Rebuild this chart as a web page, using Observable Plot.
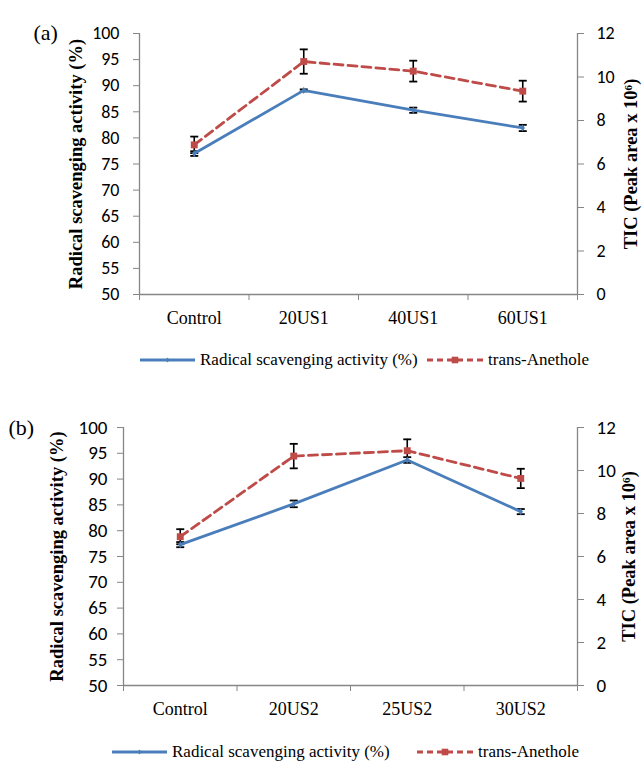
<!DOCTYPE html>
<html>
<head>
<meta charset="utf-8">
<script src="https://cdn.jsdelivr.net/npm/d3@7"></script>
<script src="https://cdn.jsdelivr.net/npm/@observablehq/plot@0.6"></script>
<style>
  html, body { margin: 0; padding: 0; background: #fff; }
  #root { position: relative; width: 643px; height: 762px; overflow: hidden; }
  .panel { position: absolute; left: 0; }
  .legend { position: absolute; left: 0; width: 643px; height: 24px; font-family: 'Liberation Serif', 'Times New Roman', serif; font-size: 17px; color: #000; }
  .legend svg, .legend span { position: absolute; }
</style>
</head>
<body>
<div id="root"></div>
<script>
// ---------- Data ----------
const categoriesA = ["Control", "20US1", "40US1", "60US1"];
const rsaA = [77.0, 89.1, 85.3, 81.9];
const rsaErrA = [0.45, 0.2, 0.5, 0.6];
const anetholeA = [6.88, 10.71, 10.27, 9.35];
const anetholeErrA = [0.38, 0.56, 0.48, 0.48];

const categoriesB = ["Control", "20US2", "25US2", "30US2"];
const rsaB = [77.3, 85.2, 93.7, 83.7];
const rsaErrB = [0.5, 0.65, 0.55, 0.5];
const anetholeB = [6.92, 10.67, 10.92, 9.63];
const anetholeErrB = [0.35, 0.57, 0.53, 0.45];

const leftTicks = [50, 55, 60, 65, 70, 75, 80, 85, 90, 95, 100];
const rightTicks = [0, 2, 4, 6, 8, 10, 12];
const leftTitle = "Radical scavenging activity (%)";
const rightTitle = "TIC (Peak area x 10\u2076)";
const seriesNames = ["Radical scavenging activity (%)", "trans-Anethole"];

// ---------- Style ----------
const blue = "#4a7ebb";
const red = "#be4b48";
const axisGray = "#868686";
const serif = "'Liberation Serif', 'Times New Roman', serif";
const sans = "Carlito, Lato, 'Open Sans', sans-serif";

// right axis (0-12) mapped onto left axis domain (50-100)
const toLeft = v => 50 + v * (50 / 12);
const fromLeft = d => (d - 50) * 12 / 50;

const capSymbol = {
  draw(ctx, size) {
    const r = Math.sqrt(size / Math.PI);
    ctx.moveTo(-r, 0);
    ctx.lineTo(r, 0);
  }
};

function panel(cfg) {
  const rows = cfg.categories.map((c, i) => ({
    cat: c, x: i + 0.5,
    rsa: cfg.rsa[i], rsaErr: cfg.rsaErr[i],
    an: toLeft(cfg.an[i]),
    anLo: toLeft(cfg.an[i] - cfg.anErr[i]),
    anHi: toLeft(cfg.an[i] + cfg.anErr[i])
  }));
  const errs = rows.flatMap(d => [
    {x: d.x, y1: d.rsa - d.rsaErr, y2: d.rsa + d.rsaErr},
    {x: d.x, y1: d.anLo, y2: d.anHi}
  ]);
  const caps = errs.flatMap(e => [{x: e.x, y: e.y1}, {x: e.x, y: e.y2}]);
  const n = cfg.categories.length;

  return Plot.plot({
    width: 643,
    height: cfg.height,
    marginLeft: cfg.left,
    marginRight: 643 - cfg.right,
    marginTop: cfg.top,
    marginBottom: cfg.bottom,
    style: {background: "#fff", color: "#000", overflow: "visible"},
    x: {type: "linear", domain: [0, n]},
    y: {type: "linear", domain: [50, 100]},
    marks: [
      // axis lines
      Plot.ruleX([0], {y1: 50, y2: 100, stroke: axisGray, strokeWidth: 1.3}),
      Plot.ruleX([n], {y1: 50, y2: 100, stroke: axisGray, strokeWidth: 1.3}),
      Plot.ruleY([50], {x1: 0, x2: n, stroke: axisGray, strokeWidth: 1.3}),
      // left axis
      Plot.axisY(leftTicks, {anchor: "left", tickSize: 6, tickPadding: cfg.leftPad, stroke: axisGray,
        fontFamily: sans, fontSize: cfg.tickFont, label: null}),
      // right axis
      Plot.axisY(rightTicks.map(toLeft), {anchor: "right", tickSize: 6, tickPadding: 13, stroke: axisGray,
        tickFormat: d => String(Math.round(fromLeft(d))), fontFamily: sans, fontSize: cfg.tickFont, label: null}),
      // x ticks at category boundaries
      Plot.axisX(d3.range(0, n + 1), {anchor: "bottom", tickSize: 6, tickFormat: () => "", stroke: axisGray, label: null}),
      // category labels
      Plot.axisX(rows.map(d => d.x), {anchor: "bottom", tickSize: 0, tickPadding: 17,
        tickFormat: d => cfg.categories[Math.floor(d)], fontFamily: serif, fontSize: 18, label: null}),
      // axis titles
      Plot.text([leftTitle], {frameAnchor: "left", dx: cfg.leftTitleDx, rotate: -90, textAnchor: "middle",
        fontFamily: serif, fontWeight: "bold", fontSize: 18.5, fill: "#000"}),
      Plot.text([rightTitle], {frameAnchor: "right", dx: cfg.rightTitleDx, rotate: -90, textAnchor: "middle",
        fontFamily: serif, fontWeight: "bold", fontSize: 18.5, fill: "#000"}),
      // panel tag
      Plot.text([cfg.tag], {frameAnchor: "top-left", dx: cfg.tagDx, dy: cfg.tagDy, textAnchor: "start",
        fontFamily: serif, fontSize: 22, fill: "#000"}),
      // error bars
      Plot.ruleX(errs, {x: "x", y1: "y1", y2: "y2", stroke: "#000", strokeWidth: 1.6}),
      Plot.dot(caps, {x: "x", y: "y", symbol: capSymbol, r: 4, stroke: "#000", strokeWidth: 1.8, fill: "none"}),
      // series
      Plot.line(rows, {x: "x", y: "rsa", stroke: blue, strokeWidth: 2.8}),
      Plot.line(rows, {x: "x", y: "an", stroke: red, strokeWidth: 2.8, strokeDasharray: "9,5"}),
      Plot.dot(rows, {x: "x", y: "rsa", symbol: "diamond", r: 2.2, fill: blue, stroke: "none"}),
      Plot.dot(rows, {x: "x", y: "an", symbol: "square", r: 3.9, fill: red, stroke: "none"})
    ]
  });
}

function legend(top, items) {
  const div = document.createElement("div");
  div.className = "legend";
  div.style.top = top + "px";
  items.forEach(it => {
    const ns = "http://www.w3.org/2000/svg";
    const svg = document.createElementNS(ns, "svg");
    svg.setAttribute("width", it.w);
    svg.setAttribute("height", 12);
    svg.style.left = it.x + "px";
    svg.style.top = "6px";
    const line = document.createElementNS(ns, "line");
    line.setAttribute("x1", 0); line.setAttribute("x2", it.w);
    line.setAttribute("y1", 6); line.setAttribute("y2", 6);
    line.setAttribute("stroke", it.color);
    line.setAttribute("stroke-width", 2.8);
    if (it.dash) line.setAttribute("stroke-dasharray", it.dash);
    svg.appendChild(line);
    const m = document.createElementNS(ns, "path");
    const cx = it.w / 2;
    if (it.marker === "square") m.setAttribute("d", `M${cx-3.3},2.7h6.6v6.6h-6.6z`);
    else m.setAttribute("d", `M${cx},3.5L${cx+2},6L${cx},8.5L${cx-2},6z`);
    m.setAttribute("fill", it.color);
    svg.appendChild(m);
    div.appendChild(svg);
    const s = document.createElement("span");
    s.textContent = it.label;
    s.style.left = it.tx + "px";
    s.style.top = "1px";
    s.style.lineHeight = "22px";
    div.appendChild(s);
  });
  return div;
}

const root = document.getElementById("root");

const a = panel({
  categories: categoriesA, rsa: rsaA, rsaErr: rsaErrA, an: anetholeA, anErr: anetholeErrA,
  height: 340, left: 139, right: 577, top: 33, bottom: 46, tickFont: 18, leftPad: 14,
  leftTitleDx: -63, rightTitleDx: 54, tag: "(a)", tagDx: -106, tagDy: -9
});
a.classList.add("panel"); a.style.top = "0px";
root.appendChild(a);
root.appendChild(legend(348, [
  {x: 140, w: 55, color: blue, marker: "diamond", label: seriesNames[0], tx: 200},
  {x: 427, w: 56, color: red, dash: "6,4", marker: "square", label: seriesNames[1], tx: 488}
]));

const b = panel({
  categories: categoriesB, rsa: rsaB, rsaErr: rsaErrB, an: anetholeB, anErr: anetholeErrB,
  height: 345, left: 123, right: 577, top: 47, bottom: 40, tickFont: 19, leftPad: 10,
  leftTitleDx: -66, rightTitleDx: 52, tag: "(b)", tagDx: -115, tagDy: -8
});
b.classList.add("panel"); b.style.top = "380px";
root.appendChild(b);
root.appendChild(legend(740, [
  {x: 112, w: 55, color: blue, marker: "diamond", label: seriesNames[0], tx: 172},
  {x: 417, w: 56, color: red, dash: "6,4", marker: "square", label: seriesNames[1], tx: 478}
]));
</script>
</body>
</html>
